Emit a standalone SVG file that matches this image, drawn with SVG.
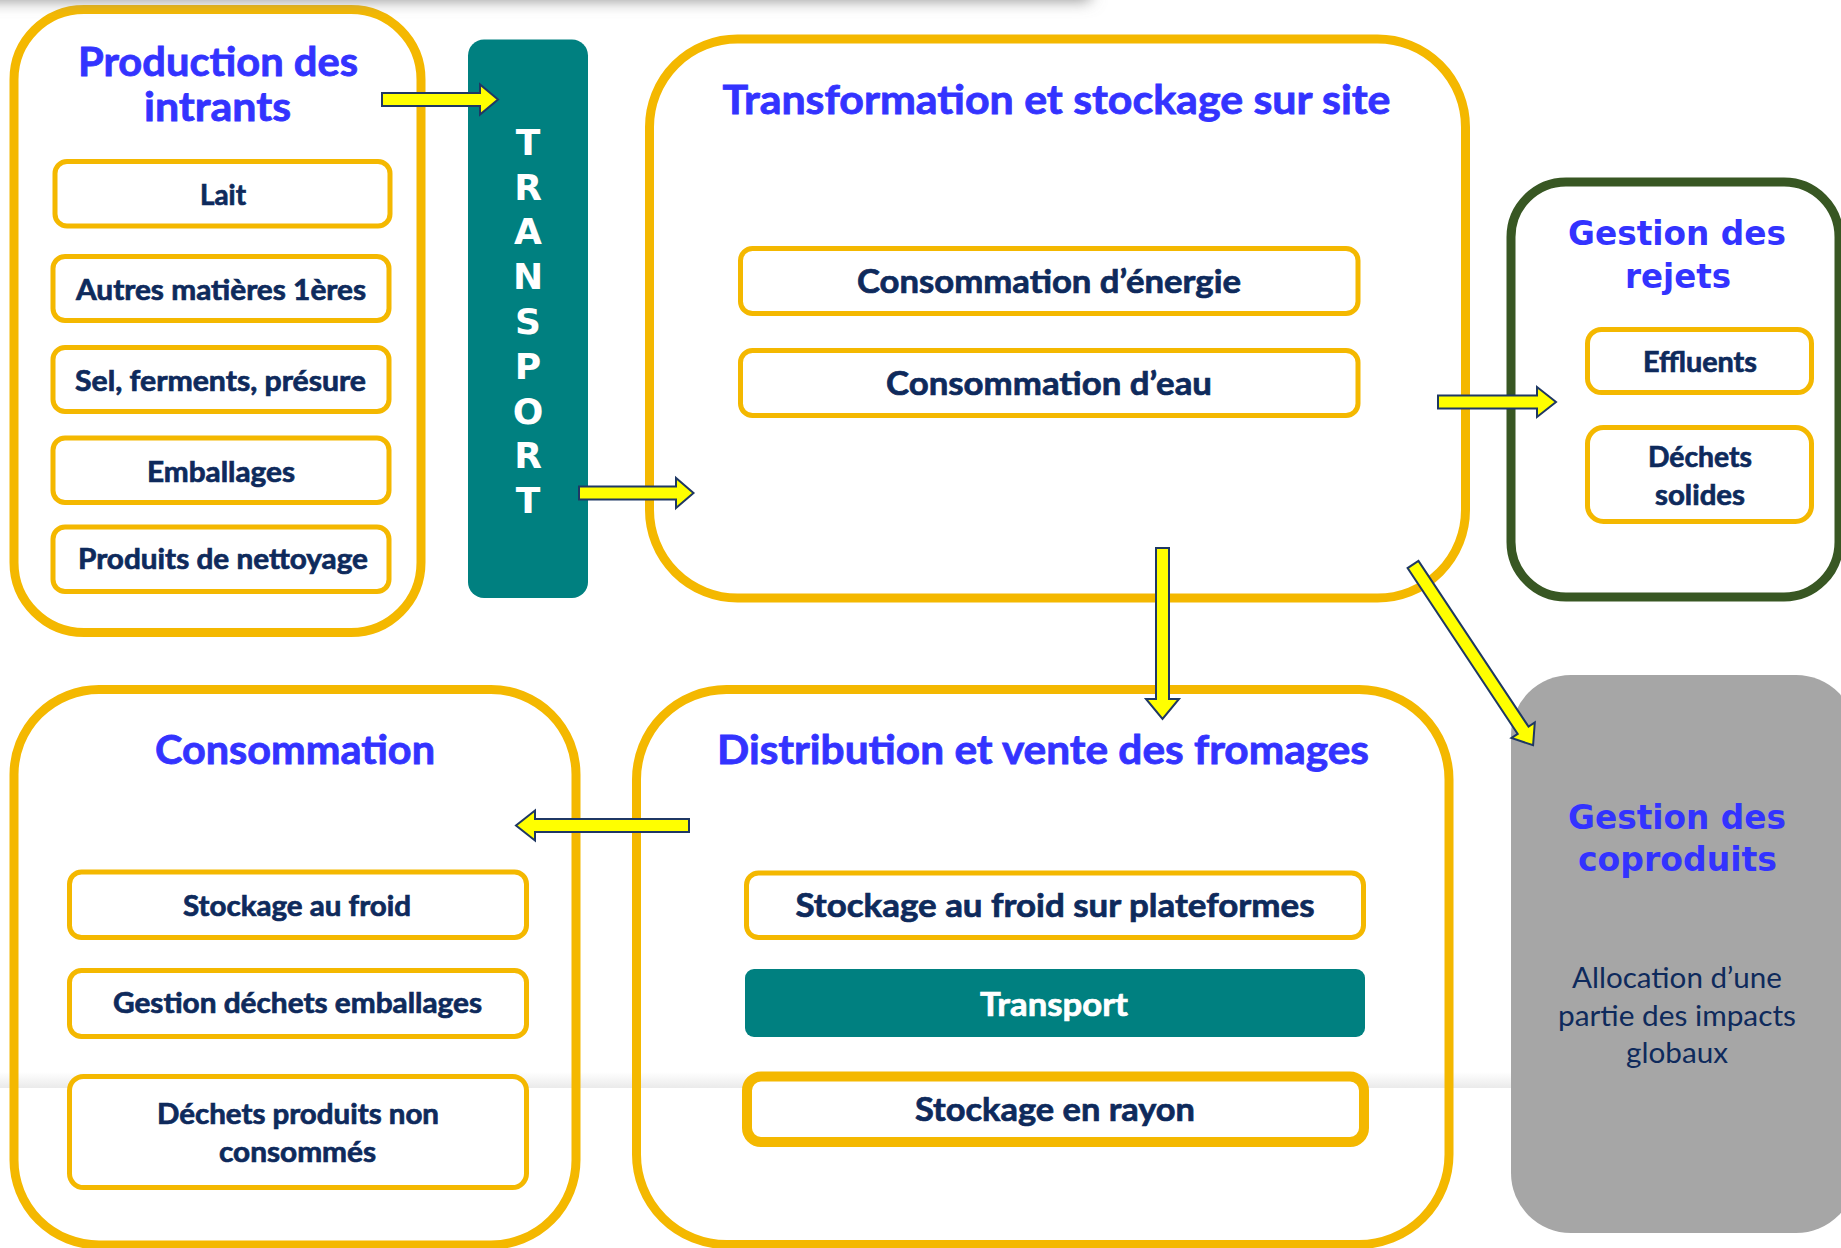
<svg xmlns="http://www.w3.org/2000/svg" width="1841" height="1248" viewBox="0 0 1841 1248">
  <defs>
    <style>
      .stage { fill: none; stroke: #F4B800; stroke-width: 9; }
      .item { fill: #FFFFFF; stroke: #F4B800; stroke-width: 5; }
      .title { font-family: Lato, "Liberation Sans", sans-serif; font-weight: 700; font-size: 40px; fill: #3333FF; stroke: #3333FF; stroke-width: 0.8; text-anchor: middle; }
      .title-wide { font-family: "DejaVu Sans", Verdana, sans-serif; font-weight: 700; font-size: 34px; fill: #3333FF; text-anchor: middle; }
      .label { font-family: Lato, "Liberation Sans", sans-serif; font-weight: 700; font-size: 28px; fill: #0E2A5C; stroke: #0E2A5C; stroke-width: 0.7; text-anchor: middle; }
      .label-lg { font-family: Lato, "Liberation Sans", sans-serif; font-weight: 700; font-size: 33px; fill: #0E2A5C; stroke: #0E2A5C; stroke-width: 0.7; text-anchor: middle; }
      .on-teal { fill: #FFFFFF; stroke: #FFFFFF; }
      .note { font-family: Lato, "Liberation Sans", sans-serif; font-weight: 400; font-size: 28px; fill: #0E2A5C; text-anchor: middle; }
      .vletter { font-family: "DejaVu Sans", Verdana, sans-serif; font-weight: 700; font-size: 36px; fill: #FFFFFF; text-anchor: middle; }
      .flow { fill: #FFFF00; stroke: #1F3864; stroke-width: 2; stroke-linejoin: miter; }
    </style>
    <linearGradient id="floorShade" x1="0" y1="0" x2="0" y2="1">
      <stop offset="0" stop-color="#FFFFFF"/>
      <stop offset="1" stop-color="#EAEAEA"/>
    </linearGradient>
    <filter id="soft" x="-5%" y="-100%" width="110%" height="300%">
      <feGaussianBlur stdDeviation="8"/>
    </filter>
  </defs>

  <rect x="0" y="0" width="1841" height="1248" fill="#FFFFFF"/>
  <!-- light band across the lower part of the page -->
  <rect x="0" y="1072" width="1841" height="16" fill="url(#floorShade)"/>

  <!-- Production des intrants -->
  <g id="production-intrants">
    <rect class="stage" x="14" y="9.5" width="407" height="623" rx="70"/>
    <text class="title" x="218" y="75.5" textLength="280" lengthAdjust="spacingAndGlyphs">Production des</text>
    <text class="title" x="217.5" y="120.5" textLength="147" lengthAdjust="spacingAndGlyphs">intrants</text>
    <g id="intrant-lait">
      <rect class="item" x="55" y="161.5" width="335" height="64.5" rx="12"/>
      <text class="label" x="223" y="205" textLength="46" lengthAdjust="spacingAndGlyphs">Lait</text>
    </g>
    <g id="intrant-matieres">
      <rect class="item" x="53" y="256.5" width="336" height="64" rx="12"/>
      <text class="label" x="221" y="300" textLength="290" lengthAdjust="spacingAndGlyphs">Autres matières 1ères</text>
    </g>
    <g id="intrant-sel">
      <rect class="item" x="53" y="347.5" width="336" height="64" rx="12"/>
      <text class="label" x="220.5" y="391" textLength="291" lengthAdjust="spacingAndGlyphs">Sel, ferments, présure</text>
    </g>
    <g id="intrant-emballages">
      <rect class="item" x="53" y="438" width="336" height="64.5" rx="12"/>
      <text class="label" x="221" y="481.5" textLength="148" lengthAdjust="spacingAndGlyphs">Emballages</text>
    </g>
    <g id="intrant-nettoyage">
      <rect class="item" x="53" y="527" width="336" height="64.5" rx="12"/>
      <text class="label" x="223" y="569" textLength="290" lengthAdjust="spacingAndGlyphs">Produits de nettoyage</text>
    </g>
  </g>

  <!-- Vertical transport bar -->
  <g id="transport-amont">
    <rect x="468" y="39.5" width="120" height="558.5" rx="16" fill="#008080"/>
    <text class="vletter" x="528" y="155">T</text>
    <text class="vletter" x="528" y="200">R</text>
    <text class="vletter" x="528" y="244">A</text>
    <text class="vletter" x="528" y="289">N</text>
    <text class="vletter" x="528" y="334">S</text>
    <text class="vletter" x="528" y="379">P</text>
    <text class="vletter" x="528" y="424">O</text>
    <text class="vletter" x="528" y="468">R</text>
    <text class="vletter" x="528" y="513">T</text>
  </g>

  <!-- Transformation et stockage sur site -->
  <g id="transformation">
    <rect class="stage" x="649.5" y="39" width="816" height="559" rx="88"/>
    <text class="title" x="1056.5" y="114" textLength="668" lengthAdjust="spacingAndGlyphs">Transformation et stockage sur site</text>
    <g id="conso-energie">
      <rect class="item" x="740.5" y="248.5" width="617.5" height="65" rx="12"/>
      <text class="label-lg" x="1049" y="292.5" textLength="384" lengthAdjust="spacingAndGlyphs">Consommation d’énergie</text>
    </g>
    <g id="conso-eau">
      <rect class="item" x="740.5" y="350.5" width="617.5" height="65" rx="12"/>
      <text class="label-lg" x="1049" y="394.5" textLength="326" lengthAdjust="spacingAndGlyphs">Consommation d’eau</text>
    </g>
  </g>

  <!-- Gestion des rejets -->
  <g id="gestion-rejets">
    <rect x="1511" y="182" width="328" height="415" rx="55" fill="none" stroke="#385723" stroke-width="9"/>
    <text class="title-wide" x="1677" y="245" textLength="218" lengthAdjust="spacingAndGlyphs">Gestion des</text>
    <text class="title-wide" x="1678" y="288" textLength="106" lengthAdjust="spacingAndGlyphs">rejets</text>
    <g id="rejet-effluents">
      <rect class="item" x="1587.5" y="329.5" width="224" height="63" rx="14"/>
      <text class="label" x="1700" y="372" textLength="114" lengthAdjust="spacingAndGlyphs">Effluents</text>
    </g>
    <g id="rejet-solides">
      <rect class="item" x="1587.5" y="427.5" width="224" height="94" rx="16"/>
      <text class="label" x="1700" y="467" textLength="104" lengthAdjust="spacingAndGlyphs">Déchets</text>
      <text class="label" x="1700" y="505" textLength="90" lengthAdjust="spacingAndGlyphs">solides</text>
    </g>
  </g>

  <!-- Gestion des coproduits -->
  <g id="gestion-coproduits">
    <rect x="1511" y="675" width="345" height="558" rx="60" fill="#A6A6A6"/>
    <text class="title-wide" x="1677" y="829" textLength="218" lengthAdjust="spacingAndGlyphs">Gestion des</text>
    <text class="title-wide" x="1677.5" y="871" textLength="199" lengthAdjust="spacingAndGlyphs">coproduits</text>
    <text class="note" x="1677" y="988" textLength="210" lengthAdjust="spacingAndGlyphs">Allocation d’une</text>
    <text class="note" x="1677" y="1026" textLength="238" lengthAdjust="spacingAndGlyphs">partie des impacts</text>
    <text class="note" x="1677" y="1063" textLength="102" lengthAdjust="spacingAndGlyphs">globaux</text>
  </g>

  <!-- Distribution et vente des fromages -->
  <g id="distribution">
    <rect class="stage" x="636.5" y="689.5" width="812.5" height="555" rx="90"/>
    <text class="title" x="1043" y="764" textLength="652" lengthAdjust="spacingAndGlyphs">Distribution et vente des fromages</text>
    <g id="stockage-plateformes">
      <rect class="item" x="746.5" y="873" width="617" height="64.5" rx="12"/>
      <text class="label-lg" x="1055" y="917" textLength="519" lengthAdjust="spacingAndGlyphs">Stockage au froid sur plateformes</text>
    </g>
    <g id="transport-aval">
      <rect x="745" y="969" width="620" height="68" rx="9" fill="#008080"/>
      <text class="label-lg on-teal" x="1054" y="1016" textLength="148" lengthAdjust="spacingAndGlyphs">Transport</text>
    </g>
    <g id="stockage-rayon">
      <rect class="item" x="747" y="1076.5" width="617" height="65.5" rx="14" style="stroke-width:10"/>
      <text class="label-lg" x="1055" y="1121" textLength="280" lengthAdjust="spacingAndGlyphs">Stockage en rayon</text>
    </g>
  </g>

  <!-- Consommation -->
  <g id="consommation">
    <rect class="stage" x="14" y="689.5" width="562" height="555.5" rx="85"/>
    <text class="title" x="295" y="764" textLength="280" lengthAdjust="spacingAndGlyphs">Consommation</text>
    <g id="conso-froid">
      <rect class="item" x="69.5" y="872" width="457" height="65.5" rx="12"/>
      <text class="label" x="297" y="915.5" textLength="228" lengthAdjust="spacingAndGlyphs">Stockage au froid</text>
    </g>
    <g id="conso-emballages">
      <rect class="item" x="69.5" y="970.5" width="457" height="66" rx="12"/>
      <text class="label" x="297.5" y="1013" textLength="369" lengthAdjust="spacingAndGlyphs">Gestion déchets emballages</text>
    </g>
    <g id="conso-pertes">
      <rect class="item" x="69.5" y="1076.5" width="457" height="111" rx="14"/>
      <text class="label" x="298" y="1124" textLength="282" lengthAdjust="spacingAndGlyphs">Déchets produits non</text>
      <text class="label" x="297.5" y="1162" textLength="157" lengthAdjust="spacingAndGlyphs">consommés</text>
    </g>
  </g>

  <!-- Block arrows between stages -->
  <g id="connectors">
    <path class="flow" d="M382,93 L480,93 L480,84.5 L498,99.5 L480,114.5 L480,106 L382,106 Z"/>
    <path class="flow" d="M579,486.5 L676,486.5 L676,478 L693.5,493 L676,508 L676,499.5 L579,499.5 Z"/>
    <path class="flow" d="M1438,395.5 L1537,395.5 L1537,387 L1556,402 L1537,417 L1537,408.5 L1438,408.5 Z"/>
    <path class="flow" d="M1156,548 L1156,699 L1146,699 L1162.5,719 L1179,699 L1169,699 L1169,548 Z"/>
    <path class="flow" transform="translate(1413,564.5) rotate(56.4)" d="M0,-6.5 L199,-6.5 L199,-14 L217,0 L199,14 L199,6.5 L0,6.5 Z"/>
    <path class="flow" d="M689,819 L535,819 L535,810.5 L516,825.5 L535,840.5 L535,832 L689,832 Z"/>
  </g>

  <!-- soft shading along the top edge -->
  <rect x="-20" y="-40" width="1110" height="40" fill="#8A8A8A" filter="url(#soft)"/>
</svg>
